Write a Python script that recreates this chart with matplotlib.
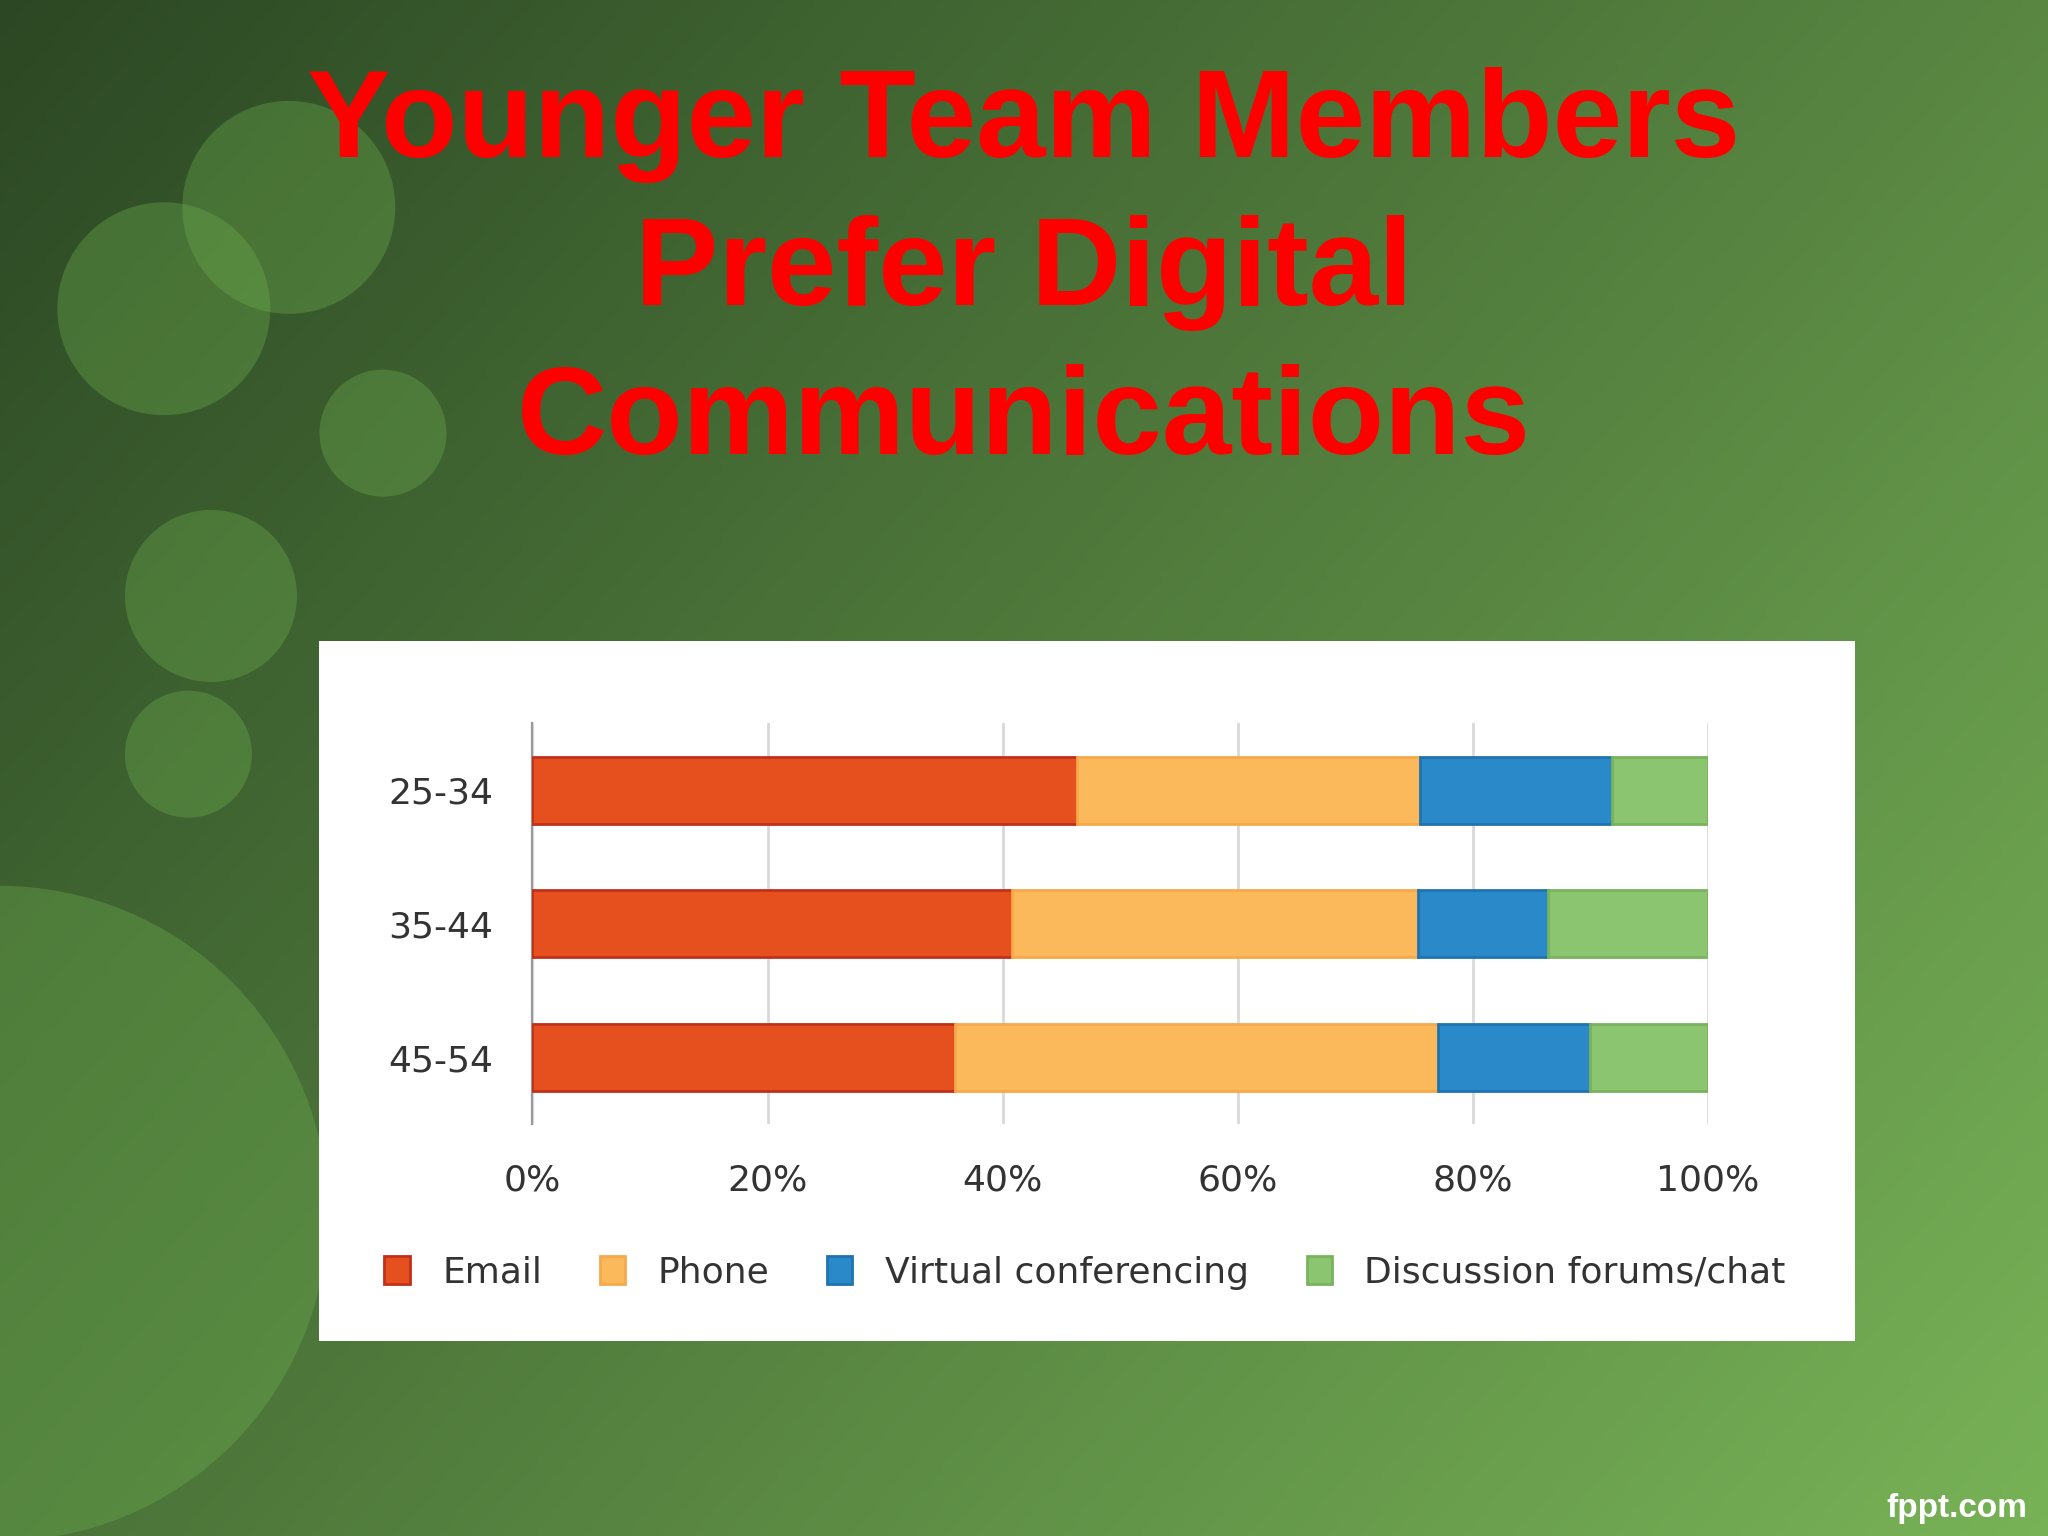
import numpy as np
import matplotlib
matplotlib.use('Agg')
import matplotlib.pyplot as plt
from matplotlib.patches import Ellipse, Rectangle

ages = ['25-34', '35-44', '45-54']
series = ['Email', 'Phone', 'Virtual conferencing', 'Discussion forums/chat']
email = [46.3, 40.8, 35.9]
phone = [29.2, 34.5, 41.1]
virtual = [16.3, 11.1, 13.0]
forums = [8.2, 13.6, 10.0]
colors = ['#e5501e', '#fcb95b', '#2a8ac9', '#8cc56f']
edges = ['#c0301a', '#f5a94a', '#1f74b0', '#79b35c']
title = 'Younger Team Members\nPrefer Digital\nCommunications'

fig = plt.figure(figsize=(10.24, 7.68), dpi=200)

# background gradient, dark top-left to light bottom-right
bg = fig.add_axes([0, 0, 1, 1])
xx, yy = np.meshgrid(np.linspace(0, 1, 400), np.linspace(0, 1, 300))
t = np.clip(0.6 * xx + 0.4 * yy, 0, 1)
c0 = np.array([0.17, 0.28, 0.14])
c1 = np.array([0.47, 0.70, 0.34])
img = c0[None, None, :] * (1 - t[..., None]) + c1[None, None, :] * t[..., None]
bg.imshow(img, extent=[0, 1, 0, 1], aspect='auto', origin='upper')
for cx, cy, r in [(0.141, 0.865, 0.052), (0.08, 0.799, 0.052), (0.187, 0.718, 0.031),
                  (0.103, 0.612, 0.042), (0.092, 0.509, 0.031), (0.0, 0.21, 0.16)]:
    bg.add_patch(Ellipse((cx, cy), 2 * r, 2 * r * 1.333, color='#6fb04f',
                         alpha=0.35, lw=0))
bg.set_xlim(0, 1)
bg.set_ylim(0, 1)
bg.axis('off')

fig.text(0.50, 0.822, title, ha='center', va='center', color='#ff0000',
         fontsize=45, fontweight='bold', family='Liberation Sans', linespacing=1.36)
fig.text(0.99, 0.008, 'fppt.com', ha='right', va='bottom', color='white',
         fontsize=12, fontweight='bold', family='Liberation Sans')

# white panel
fig.patches.append(Rectangle((0.156, 0.127), 0.75, 0.456, transform=fig.transFigure,
                             facecolor='white', edgecolor='none', zorder=1))

ax = fig.add_axes([0.260, 0.268, 0.574, 0.261])
ax.set_zorder(2)
ax.patch.set_alpha(0)
y = np.arange(len(ages))
left = np.zeros(len(ages))
for name, vals, c, e in zip(series, [email, phone, virtual, forums], colors, edges):
    ax.barh(y, vals, left=left, height=0.5, color=c, edgecolor=e, lw=1, label=name, zorder=3)
    left += np.array(vals)
ax.set_ylim(2.5, -0.5)
ax.set_xlim(0, 100)
ax.set_yticks(y)
ax.set_yticklabels(ages)
ax.set_xticks(range(0, 101, 20))
ax.set_xticklabels([f'{v}%' for v in range(0, 101, 20)])
ax.grid(axis='x', color='#d9d9d9', lw=1, zorder=0)
for s in ['top', 'right', 'bottom']:
    ax.spines[s].set_visible(False)
ax.spines['left'].set_color('#999999')
ax.tick_params(length=0, labelsize=13, colors='#333333', pad=14)
ax.legend(loc='center', bbox_to_anchor=(0.47, -0.37), ncol=4, frameon=False,
          fontsize=13, handlelength=0.7, handleheight=0.8, handletextpad=0.9,
          columnspacing=1.6, labelcolor='#333333')

fig.savefig('out.png')
